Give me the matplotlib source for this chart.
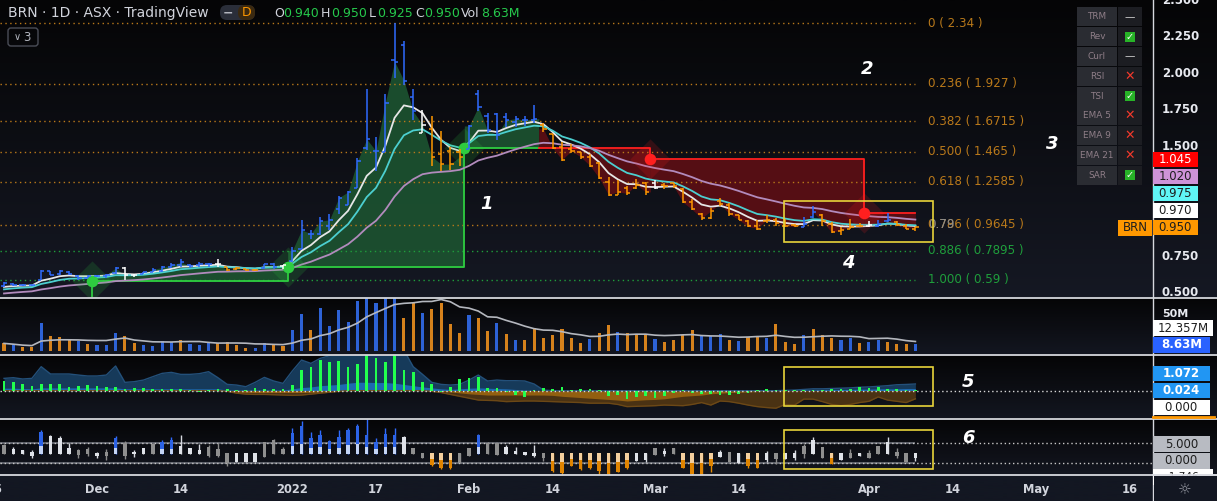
import numpy as np
import pandas as pd
import matplotlib
matplotlib.use("Agg")
import matplotlib.pyplot as plt
from matplotlib.colors import LinearSegmentedColormap
from matplotlib.patches import Rectangle, FancyBboxPatch

plt.rcParams["font.family"] = ["DejaVu Sans"]

W, H = 1217, 501

# ---------------- data: BRN (ASX) daily bars, 17 Nov 2021 - 8 Apr 2022 ----------------
first_bar = "2021-11-17"
holidays = ["2021-12-27", "2021-12-28", "2022-01-03", "2022-01-26",
            "2022-04-15", "2022-04-18", "2022-04-25"]

opens = [0.550, 0.560, 0.555, 0.552, 0.590, 0.648, 0.630, 0.645, 0.615, 0.605,
         0.615, 0.615, 0.635, 0.670, 0.620, 0.630, 0.645, 0.650, 0.680, 0.690,
         0.690, 0.690, 0.700, 0.700, 0.675, 0.665, 0.665, 0.660, 0.670, 0.695,
         0.685, 0.720, 0.800, 0.900, 0.900, 0.960, 1.070, 1.100, 1.220, 1.490,
         1.470, 1.460, 2.090, 2.190, 1.840, 1.590, 1.620, 1.450, 1.470, 1.460,
         1.480, 1.860, 1.710, 1.720, 1.700, 1.670, 1.680, 1.680, 1.650, 1.585,
         1.500, 1.480, 1.460, 1.430, 1.390, 1.260, 1.170, 1.220, 1.220, 1.250,
         1.250, 1.240, 1.250, 1.210, 1.120, 1.040, 1.010, 1.130, 1.100, 1.030,
         0.990, 0.960, 0.990, 1.000, 0.960, 0.965, 0.950, 1.020, 1.030, 0.970,
         0.920, 0.940, 0.960, 0.955, 0.960, 0.990, 0.985, 0.960, 0.940]
highs = [0.572, 0.568, 0.562, 0.556, 0.657, 0.652, 0.660, 0.650, 0.620, 0.625,
         0.625, 0.630, 0.680, 0.675, 0.630, 0.645, 0.670, 0.685, 0.705, 0.730,
         0.700, 0.710, 0.705, 0.730, 0.680, 0.675, 0.665, 0.662, 0.700, 0.705,
         0.690, 0.816, 0.998, 0.930, 1.020, 1.037, 1.160, 1.198, 1.420, 1.890,
         1.567, 1.857, 2.340, 2.220, 1.890, 1.750, 1.710, 1.605, 1.500, 1.480,
         1.650, 1.885, 1.726, 1.730, 1.727, 1.710, 1.710, 1.783, 1.658, 1.585,
         1.529, 1.517, 1.465, 1.449, 1.397, 1.294, 1.272, 1.230, 1.276, 1.260,
         1.272, 1.253, 1.253, 1.215, 1.140, 1.044, 1.078, 1.146, 1.112, 1.030,
         0.998, 0.998, 1.030, 1.010, 1.003, 0.970, 1.021, 1.094, 1.039, 0.987,
         0.948, 1.003, 0.976, 0.990, 0.998, 1.044, 0.990, 0.970, 0.950]
lows = [0.543, 0.548, 0.548, 0.546, 0.589, 0.620, 0.620, 0.625, 0.590, 0.600,
        0.608, 0.600, 0.630, 0.590, 0.610, 0.628, 0.640, 0.645, 0.670, 0.680,
        0.670, 0.680, 0.680, 0.680, 0.650, 0.660, 0.650, 0.652, 0.665, 0.665,
        0.665, 0.714, 0.798, 0.870, 0.895, 0.930, 1.040, 1.100, 1.220, 1.476,
        1.335, 1.460, 1.970, 1.920, 1.680, 1.590, 1.370, 1.330, 1.340, 1.370,
        1.480, 1.745, 1.590, 1.544, 1.636, 1.636, 1.640, 1.658, 1.600, 1.480,
        1.403, 1.453, 1.413, 1.358, 1.276, 1.162, 1.170, 1.170, 1.208, 1.170,
        1.208, 1.212, 1.220, 1.112, 1.067, 0.999, 1.003, 1.094, 1.026, 0.998,
        0.948, 0.930, 0.976, 0.957, 0.948, 0.948, 0.948, 1.010, 0.957, 0.907,
        0.896, 0.935, 0.948, 0.948, 0.948, 0.987, 0.957, 0.934, 0.925]
closes = [0.565, 0.558, 0.556, 0.553, 0.650, 0.625, 0.648, 0.630, 0.605, 0.615,
          0.618, 0.625, 0.670, 0.620, 0.620, 0.640, 0.660, 0.675, 0.690, 0.710,
          0.685, 0.695, 0.695, 0.700, 0.655, 0.668, 0.655, 0.658, 0.695, 0.680,
          0.690, 0.790, 0.930, 0.905, 0.990, 1.000, 1.150, 1.190, 1.400, 1.550,
          1.470, 1.800, 2.080, 1.950, 1.740, 1.650, 1.430, 1.380, 1.380, 1.430,
          1.640, 1.770, 1.610, 1.580, 1.680, 1.690, 1.680, 1.690, 1.620, 1.490,
          1.410, 1.470, 1.430, 1.370, 1.285, 1.170, 1.190, 1.180, 1.240, 1.190,
          1.220, 1.230, 1.230, 1.120, 1.070, 1.010, 1.060, 1.110, 1.040, 1.000,
          0.955, 0.940, 1.000, 0.980, 0.955, 0.955, 0.970, 1.050, 0.990, 0.915,
          0.930, 0.950, 0.955, 0.965, 0.970, 1.000, 0.965, 0.940, 0.950]
# bar colouring of the custom study: b = blue, o = orange, w = white
bar_kind = ("b" * 13 + "ww" + "b" * 8 + "w" + "oooo" + "bb" + "w" + "b" * 14 + "w"
            + "oooo" + "b" * 8 + "o" * 12 + "w" + "o" * 15 + "bb" + "o" * 5 + "w" + "bb" + "ooo")

# volume in millions and its direction
volume = [9.5, 7.4, 4.8, 4.8, 36, 19, 17.8, 13.9, 12.6, 8.7,
          7.4, 7.4, 23, 19, 10, 7.4, 6, 12.6, 11.3, 13.9,
          8.7, 7.4, 11.3, 10, 11.3, 7.4, 3.5, 3.5, 10, 8.7,
          6, 27, 48, 27, 55, 32, 53, 37, 64.5, 90,
          62, 80, 100, 42, 62, 49, 54, 62, 35, 23,
          46, 42, 25.5, 36, 21.6, 13.9, 13.9, 29.4, 16.5, 20.4,
          28, 16.5, 10, 15.2, 23, 33, 24, 23, 21.6, 20.4,
          15.2, 11.3, 13.9, 20.4, 26.8, 20.4, 19, 21.6, 13.9, 12.6,
          17.8, 17.8, 16.5, 34.6, 11.3, 8.7, 20.4, 28, 20.4, 16.5,
          13.9, 16.5, 10, 11.3, 13.9, 11.3, 8.7, 8.7, 8.63]
vol_dir = ("o b o o b o o o b o  b b b o o b b b b o  b b b o o o o b b o  "
           "o b b o b b b b b b  b b b o o b o o o o  b o o b o b o o o o  "
           "o o o b o o b o o o  b o o o o b b b o b  o o b o o o b o o o  "
           "b b o b b o o o b").split()

# momentum oscillator pane
osc_hist = [1.55, 1.33, 1.07, 0.75, 1.07, 1.07, 1.07, 0.59, 0.75, 0.91,
            0.75, 0.59, 0.59, 0.27, 0.43, 0.43, 0.27, 0.27, 0.27, 0.27,
            0.1, -0.2, 0.1, 0.27, 0.27, 0.1, 0.1, 0.43, 0.27, 0.27,
            0.27, 0.91, 3.3, 3.8, 4.9, 4.6, 4.75, 3.8, 4.3, 5.7,
            5.2, 4.6, 5.7, 3.3, 3.0, 1.39, 1.07, -0.16, 0.59, 1.87,
            2.03, 2.24, 0.43, 0.43, -0.21, -0.7, -0.96, 0.05, 0.43, 0.32,
            0.59, 0.05, 0.32, 0.32, 0.05, -0.8, -0.64, -1.28, -0.96, -0.8,
            -1.12, -0.8, -0.32, 0.05, -0.32, -0.48, -0.48, -0.64, -0.64, -0.48,
            -0.32, 0.05, 0.32, 0.05, 0.05, 0.16, 0.16, 0.16, 0.16, 0.32,
            0.32, 0.32, 0.53, 0.48, 0.59, 0.32, 0.32, 0.05, 0.1]
osc_up = [1.97, 2.08, 1.87, 1.97, 3.84, 2.67, 2.67, 2.67, 2.5, 2.35,
          2.35, 2.5, 3.95, 1.33, 1.44, 1.7, 2.24, 2.77, 2.93, 2.61,
          2.61, 2.72, 3.04, 2.08, 1.01, 0.9, 0.64, 1.33, 2.13, 1.55,
          1.17, 3.15, 4.9, 4.37, 5.17, 5.6, 6.5, 7, 7, 7,
          7, 7, 7, 6.5, 3.84, 2.61, 1.33, 1.01, 0.9, 1.01,
          1.7, 2.5, 1.55, 1.7, 1.6, 1.6, 1.55, 1.07, 0.1, 0,
          0, 0, 0, 0, 0, 0, 0, 0, 0, 0,
          0, 0, 0, 0, 0, 0, 0, 0, 0, 0,
          0, 0, 0, 0, 0.05, 0.1, 0.2, 0.3, 0.3, 0.35,
          0.4, 0.45, 0.55, 0.6, 0.7, 0.8, 0.95, 1.0, 1.072]
osc_up_in = [0.4, 0.4, 0.35, 0.3, 0.45, 0.45, 0.45, 0.45, 0.45, 0.45,
             0.45, 0.45, 0.45, 0.3, 0.3, 0.3, 0.3, 0.3, 0.3, 0.3,
             0.3, 0.3, 0.3, 0.3, 0.1, 0.1, 0.1, 0.1, 0.1, 0.1,
             0.1, 0.3, 0.5, 0.6, 0.8, 0.9, 1.0, 1.2, 1.35, 1.35,
             1.3, 1.3, 1.2, 1.0, 0.8, 0.6, 0.45, 0.3, 0.2, 0.3,
             0.4, 0.45, 0.4, 0.35, 0.3, 0.2, 0.1, 0.05, 0, 0,
             0, 0, 0, 0, 0, 0, 0, 0, 0, 0,
             0, 0, 0, 0, 0, 0, 0, 0, 0, 0,
             0, 0, 0, 0, 0, 0.05, 0.1, 0.1, 0.15, 0.15,
             0.2, 0.2, 0.25, 0.25, 0.3, 0.3, 0.3, 0.35, 0.35]
osc_dn = [0, 0, 0, 0, 0, 0, 0, 0, 0, 0,
          0, 0, 0, 0, 0, 0, 0, 0, 0, 0,
          0, 0, 0, 0, -0.1, -0.4, -0.55, -0.6, -0.6, -0.65,
          -0.7, -0.75, -0.7, -0.55, -0.4, -0.25, -0.1, 0, 0, 0,
          0, 0, 0, 0, 0, 0, -0.1, -0.3, -0.6, -0.9,
          -1.2, -1.5, -1.55, -1.6, -1.75, -1.7, -1.65, -1.65, -1.7, -1.75,
          -1.8, -1.85, -1.9, -2.0, -2.0, -2.0, -2.2, -2.55, -2.5, -2.45,
          -2.4, -2.3, -2.35, -2.4, -2.2, -1.9, -2.3, -1.65, -1.75, -2.0,
          -2.3, -2.55, -2.7, -2.8, -2.2, -2.3, -1.35, -1.35, -1.75, -2.2,
          -2.4, -2.2, -1.9, -1.7, -1.0, -1.5, -1.7, -1.9, -1.3]
osc_dn_in = [0, 0, 0, 0, 0, 0, 0, 0, 0, 0,
             0, 0, 0, 0, 0, 0, 0, 0, 0, 0,
             0, 0, 0, 0, -0.05, -0.2, -0.25, -0.3, -0.3, -0.3,
             -0.3, -0.3, -0.3, -0.25, -0.2, -0.1, -0.05, 0, 0, 0,
             0, 0, 0, 0, 0, 0, 0, -0.1, -0.2, -0.35,
             -0.5, -0.6, -0.7, -0.7, -0.7, -0.7, -0.7, -0.7, -0.7, -0.75,
             -0.9, -1.0, -1.1, -1.2, -1.3, -1.4, -1.5, -1.65, -1.55, -1.45,
             -1.4, -1.3, -1.1, -0.9, -0.8, -0.7, -0.5, -0.4, -0.3, -0.25,
             -0.2, -0.15, -0.1, -0.05, -0.05, -0.05, -0.05, -0.05, -0.05, -0.05,
             -0.05, -0.05, -0.05, -0.05, -0.05, -0.05, -0.05, -0.05, -0.05]

# candle oscillator pane (body top/bottom, wick top/bottom, kind)
c_hi = [4.4, 3.4, 3.2, 2.75, 7.75, 6.75, 6.25, 3.75, 3.2, 3.4,
        2.3, 2.6, 6.25, 5.0, 2.75, 3.6, 4.6, 5.25, 5.7, 4.25,
        3.6, 3.2, 4.0, 3.4, 2.3, 2.3, 2.3, 2.3, 5.1, 5.6,
        3.4, 7.5, 9.2, 6.25, 6.9, 5.4, 6.5, 8.2, 9.2, 6.9,
        5.25, 7.1, 6.9, 6.4, 3.6, 2.3, 2.3, 2.3, 2.3, 2.3,
        3.6, 6.9, 5.0, 4.8, 3.9, 2.9, 2.6, 2.3, 2.3, 2.3,
        2.3, 2.3, 2.3, 2.3, 2.3, 2.3, 2.3, 2.3, 2.3, 2.3,
        3.6, 2.9, 3.6, 2.3, 2.3, 2.3, 2.3, 2.6, 2.6, 2.3,
        2.3, 2.3, 2.3, 2.5, 2.3, 2.3, 4.2, 5.7, 4.0, 2.3,
        2.3, 2.3, 2.3, 2.5, 4.2, 5.25, 2.75, 2.3, 2.3]
c_lo = [2.25, 2.25, 2.25, 1.75, 2.25, 2.25, 2.25, 2.25, 1.9, 2.1,
        1.75, 1.7, 2.25, 1.75, 2.1, 2.25, 2.25, 2.25, 2.25, 2.25,
        2.25, 2.25, 1.75, 1.75, -0.15, 0.25, 0.25, 0.25, 1.5, 2.25,
        2.25, 2.25, 2.25, 2.25, 2.25, 2.25, 2.25, 2.25, 2.25, 2.25,
        2.25, 2.25, 2.25, 2.25, 2.25, 1.1, -0.6, -1.4, -1.25, -0.15,
        1.75, 2.25, 2.25, 1.9, 2.25, 2.25, 1.9, 1.75, 1.1, -2.1,
        -2.7, -0.75, -1.6, -1.4, -2.1, -2.9, -2.25, -1.4, 0.4, 0.7,
        1.9, 2.1, 2.1, -1.25, -2.9, -3.0, -0.75, 1.4, 0.25, -0.2,
        -0.75, -1.4, 0.7, 0.9, 0.9, 1.25, 2.1, 2.25, 1.25, -0.4,
        0.6, 1.1, 1.75, 1.25, 2.25, 2.25, 1.6, 0.25, 1.1]
w_hi = [4.6, 4.0, 3.2, 3.2, 8.2, 6.9, 6.6, 4.8, 3.4, 3.8,
        2.75, 3.4, 6.7, 5.4, 3.2, 3.75, 4.8, 5.6, 6.4, 6.9,
        3.75, 4.6, 4.4, 4.8, 2.3, 2.3, 2.3, 2.3, 5.25, 5.9,
        4.0, 8.6, 10.4, 7.6, 8.2, 5.6, 8.2, 8.6, 9.6, 10.9,
        6.1, 8.6, 8.6, 6.6, 3.75, 2.5, 2.3, 2.3, 2.3, 2.3,
        3.6, 7.1, 5.25, 4.8, 4.4, 3.9, 2.6, 4.4, 2.3, 2.3,
        2.3, 2.3, 2.3, 2.3, 2.3, 2.3, 2.3, 2.3, 2.3, 2.5,
        3.6, 3.75, 3.6, 2.3, 2.3, 2.3, 2.3, 3.2, 2.6, 2.3,
        2.3, 2.3, 2.9, 2.5, 2.3, 3.2, 4.6, 6.4, 4.0, 2.3,
        2.3, 3.4, 2.3, 3.2, 4.2, 6.4, 3.6, 2.3, 2.3]
w_lo = [2.1, 2.25, 2.25, 1.25, 2.25, 2.25, 2.25, 2.25, 1.25, 1.75,
        1.1, 0.6, 2.25, 0.9, 1.5, 2.25, 2.25, 2.1, 2.25, 2.25,
        2.25, 2.25, 1.4, 1.5, -0.75, 0.25, 0.25, 0.25, 1.5, 2.25,
        2.25, 2.25, 2.25, 2.25, 2.25, 2.25, 2.25, 2.25, 2.25, 2.25,
        2.25, 2.25, 2.25, 2.25, 2.1, 1.1, -0.75, -1.6, -1.6, -0.15,
        1.75, 2.25, 2.25, 1.9, 2.25, 2.25, 1.9, 1.5, 0.4, -2.25,
        -2.9, -0.9, -1.75, -1.6, -2.75, -3.0, -2.4, -1.5, 0.4, 0.25,
        1.9, 1.75, 2.1, -1.25, -3.0, -3.1, -2.25, 1.4, 0.25, -0.2,
        -1.4, -1.4, 0.25, -0.4, 0.9, 0.7, 1.25, 2.25, 1.25, -0.4,
        0.6, 1.1, 1.75, 1.25, 2.25, 2.25, 1.25, 0.25, 0.4]
c_kind = ("g w w w b w w w g g  w g b g w w g b b w  w w g g g w w w g g  "
          "g b b b b b b b b b  b b b w g g o o o g  g b g g w w w w g o  "
          "o o o o o o o o w w  g w g o o o o w g w  o o w g w w g w g o  "
          "w g w g g w g g w").split()

# stop-and-reverse steps (start date of each step, level, side)
sar_from = ["2021-12-01", "2022-01-04", "2022-02-01", "2022-02-11", "2022-03-01", "2022-04-01"]
sar_level = [0.58, 0.676, 1.49, 1.49, 1.413, 1.045]
sar_side = ["long", "long", "long", "short", "short", "short"]

# fibonacci retracement
fib_ratio = ["0", "0.236", "0.382", "0.500", "0.618", "0.786", "0.886", "1.000"]
fib_price = [2.34, 1.927, 1.6715, 1.465, 1.2585, 0.9645, 0.7895, 0.59]

ema_spans = [5, 9, 21]
ema_seed = [0.53, 0.515, 0.49]

# visible price-scale labels (1.250 and 1.000 sit under the value tags)
price_ticks = [2.5, 2.25, 2.0, 1.75, 1.5, 0.75, 0.5]
axis_tags = ["1.045", "1.020", "0.975", "0.970", "0.950"]

tick_labels = ["15", "Dec", "14", "2022", "17", "Feb", "14", "Mar", "14", "Apr", "14", "May", "16"]
tick_dates = ["2021-11-16", "2021-12-01", "2021-12-14", "2022-01-04", "2022-01-17", "2022-02-01",
              "2022-02-14", "2022-03-01", "2022-03-14", "2022-04-01", "2022-04-14", "2022-05-02",
              "2022-05-16"]

table_rows = ["TRM", "Rev", "Curl", "RSI", "TSI", "EMA 5", "EMA 9", "EMA 21", "SAR"]
table_state = ["-", "ok", "-", "x", "ok", "x", "x", "x", "ok"]

# ---------------- positions ----------------
cal = pd.bdate_range("2021-11-16", "2022-05-31")
cal = cal[~cal.isin(pd.to_datetime(holidays))]
pos = {d: i for i, d in enumerate(cal)}
n = len(closes)
xb = pos[pd.Timestamp(first_bar)] + np.arange(n)

BAR_PX = 9.3
dec1 = pos[pd.Timestamp("2021-12-01")]
xl = (dec1 - 97 / BAR_PX, dec1 + (1152 - 97) / BAR_PX)


def ema(vals, span, seed):
    k = 2 / (span + 1)
    e, out = seed, []
    for v in vals:
        e += k * (v - e)
        out.append(e)
    return np.array(out)


emas = [ema(closes, s, sd) for s, sd in zip(ema_spans, ema_seed)]
vol_ma = pd.Series(volume).rolling(10, min_periods=1).mean()

# ---------------- figure ----------------
fig = plt.figure(figsize=(W / 100, H / 100), dpi=100)
fig.patch.set_facecolor("#0d0f15")


def box(x0, y0, x1, y1):
    return [x0 / W, 1 - y1 / H, (x1 - x0) / W, (y1 - y0) / H]


def backdrop(y0, y1, top, bottom):
    a = fig.add_axes(box(0, y0, W, y1))
    a.imshow(np.linspace(0, 1, 100).reshape(-1, 1), aspect="auto", origin="lower",
             extent=[0, 1, 0, 1], cmap=LinearSegmentedColormap.from_list("bg", [bottom, top]))
    a.axis("off")


def pane(y0, y1):
    a = fig.add_axes(box(0, y0, 1152, y1))
    a.set_xlim(xl)
    a.axis("off")
    return a


backdrop(0, 297, "#050506", "#151823")
backdrop(297, 354, "#050506", "#131620")
backdrop(354, 418, "#050506", "#131620")
backdrop(418, 475, "#050506", "#131620")
backdrop(475, 501, "#131722", "#131722")

# ---- main price pane ----
ax = pane(0, 297)
ax.set_ylim(0.5 - 4 / 146.5, 0.5 + 293 / 146.5)

cl = np.array(closes)
starts = [pos[pd.Timestamp(d)] - xb[0] for d in sar_from]
ends = starts[1:] + [n]
GREEN, RED = "#2ecc40", "#ff1f1f"
for s, e, lv, sd in zip(starts, ends, sar_level, sar_side):
    xs = np.concatenate([[xb[s] - 0.5], xb[s:e], [xb[e - 1] + (0.5 if e < n else 0)]])
    cs = np.concatenate([[cl[s]], cl[s:e], [cl[e - 1]]])
    ax.fill_between(xs, lv, cs, color="#1c5230" if sd == "long" else "#5c0e14",
                    alpha=0.92, lw=0, zorder=1)

for side, col in (("long", GREEN), ("short", RED)):
    px, py = [], []
    for k, (s, e, lv, sd) in enumerate(zip(starts, ends, sar_level, sar_side)):
        if sd != side:
            continue
        xa = xb[s] - 0.5
        xe = xb[e - 1] + (0.5 if e < n else 0)
        if k == 0:
            px.append(xa)
            py.append(ax.get_ylim()[0])
        px += [xa, xe]
        py += [lv, lv]
    ax.plot(px, py, color=col, lw=1.3, zorder=3)

for k, (s, lv, sd) in enumerate(zip(starts, sar_level, sar_side)):
    if k == 0 or sd == sar_side[k - 1]:
        col = GREEN if sd == "long" else RED
        ax.scatter(xb[s] - 0.5, lv, s=420, marker="D", color=col, alpha=0.16, lw=0, zorder=5)
        ax.scatter(xb[s] - 0.5, lv, s=70, color=col, lw=0, zorder=5)

fib_col = ["#b9791a"] * 6 + ["#1f9e3c"] * 2
ax.hlines(fib_price, xl[0], xb[-1], colors=fib_col, lw=1.0, linestyles=(0, (1, 2.5)), zorder=2)
x_lab = xl[0] + 928 / BAR_PX
for r, p, c in zip(fib_ratio, fib_price, fib_col):
    ax.text(x_lab, p, f"{r} ( {p:g} )", color=c, fontsize=8.6, va="center", ha="left",
            clip_on=False, zorder=6)
# the drawing's own short label that sits on top of the 0.786 level text
ax.text(x_lab, fib_price[5], "0.79", color="#8c8c8c", fontsize=8.6, va="center", ha="left",
        clip_on=False, zorder=7)

for e, c in zip(emas, ["#e6e6e6", "#4ccfd0", "#b28bbd"]):
    ax.plot(xb, e, color=c, lw=1.3, zorder=4)

bar_col = {"b": "#2f6bff", "o": "#ff9800", "w": "#ffffff"}
bc = [bar_col[k] for k in bar_kind]
ax.vlines(xb, lows, highs, colors=bc, lw=1.1, zorder=6)
ax.hlines(opens, xb - 0.35, xb, colors=bc, lw=1.1, zorder=6)
ax.hlines(closes, xb, xb + 0.35, colors=bc, lw=1.1, zorder=6)

x_ax = xl[1] + 10 / BAR_PX
for t in price_ticks:
    ax.text(x_ax, t, f"{t:.3f}", color="#e8eaf0", fontsize=8.5, fontweight="bold",
            va="center", ha="left", clip_on=False)

# ---- volume pane ----
axv = pane(298, 354)
axv.set_ylim(-4.3, 68.5)
vcol = {"b": "#2d62d6", "o": "#d6821c"}
axv.bar(xb, volume, width=0.34, color=[vcol[d] for d in vol_dir])
axv.plot(xb, vol_ma, color="#b4b7be", lw=1.2)

# ---- oscillator pane ----
axo = pane(355, 418)
axo.set_ylim(-4.37, 5.71)
axo.fill_between(xb, 0, osc_up, color="#163a5a", lw=0)
axo.plot(xb, osc_up, color="#23507a", lw=1)
axo.fill_between(xb, 0, osc_up_in, color="#1d6ab0", lw=0)
axo.fill_between(xb, 0, osc_dn, color="#4a3213", lw=0)
axo.plot(xb, osc_dn, color="#6c4816", lw=1)
axo.fill_between(xb, 0, osc_dn_in, color="#925f10", lw=0)
axo.bar(xb, osc_hist, width=0.3, color="#22ff4e", zorder=3)
axo.axhline(0, color="#d8d8d8", lw=1, ls=(0, (1, 2)), zorder=4)

# ---- candle pane ----
axc = pane(419, 475)
axc.set_ylim(-3.08, 10.9)
for lv in (5, 0):
    axc.hlines(lv, xl[0], xb[-1], color="#6d707a", lw=1.2)
    axc.axhline(lv, color="#c8c8c8", lw=1, ls=(0, (1, 2)))
wick_col = {"b": "#2f6bff", "o": "#e58a00", "w": "#d6d9e0", "g": "#8a8a8a"}
for i in range(n):
    x, k = xb[i], c_kind[i]
    hi, lo = c_hi[i], c_lo[i]
    axc.vlines(x, w_lo[i], w_hi[i], color=wick_col[k], lw=1.0, zorder=3)
    if k == "b":
        sp = lo + 0.35 * (hi - lo)
        axc.bar(x, sp - lo, bottom=lo, width=0.38, color="#c4d4f4", zorder=4)
        axc.bar(x, hi - sp, bottom=sp, width=0.38, color="#2c63e6", zorder=4)
    elif k == "o":
        sp = hi - 0.45 * (hi - lo)
        axc.bar(x, hi - sp, bottom=sp, width=0.38, color="#f4cf9e", zorder=4)
        axc.bar(x, sp - lo, bottom=lo, width=0.38, color="#e08400", zorder=4)
    else:
        axc.bar(x, max(hi - lo, 0.12), bottom=lo, width=0.38,
                color="#dfe2e8" if k == "w" else "#8f8f8f", zorder=4)

# ---- time axis ----
axt = pane(475, 501)
axt.set_ylim(0, 1)
for lab, d in zip(tick_labels, tick_dates):
    axt.text(pos[pd.Timestamp(d)], 0.45, lab, color="#d1d4dc", fontsize=8.3,
             fontweight="bold", ha="center", va="center", clip_on=True)

# ---------------- overlay (pixel space) ----------------
ov = fig.add_axes([0, 0, 1, 1])
ov.set_xlim(0, W)
ov.set_ylim(H, 0)
ov.axis("off")

for y in (297.5, 354.5, 418.5, 475):
    ov.plot([0, W], [y, y], color="#d6d8de", lw=1.3)
ov.plot([1152.5, 1152.5], [0, H], color="#d6d8de", lw=1.0)

# header
ov.text(8, 12.5, "BRN · 1D · ASX · TradingView", color="#d1d4dc", fontsize=10, va="center")
ov.add_patch(FancyBboxPatch((220, 5), 35, 15, boxstyle="round,pad=0,rounding_size=7",
                            color="#2a2e39", lw=0))
ov.add_patch(FancyBboxPatch((238, 5), 17, 15, boxstyle="round,pad=0,rounding_size=7",
                            color="#3a2910", lw=0))
ov.text(228, 12.5, "−", color="#b2b5be", fontsize=9, ha="center", va="center", fontweight="bold")
ov.text(247, 12.5, "D", color="#ff9800", fontsize=9, ha="center", va="center")
ohlc_parts = [(274, "O", False), (283, "0.940", True), (321, "H", False), (331, "0.950", True),
              (369, "L", False), (377, "0.925", True), (415, "C", False), (424, "0.950", True),
              (461, "Vol", False), (481, "8.63M", True)]
for xp, t, num in ohlc_parts:
    ov.text(xp, 13, t, color="#26c94c" if num else "#d1d4dc", fontsize=9, va="center")
ov.add_patch(FancyBboxPatch((8, 28), 30, 18, boxstyle="round,pad=0,rounding_size=3",
                            fc="none", ec="#4a4d57", lw=1))
ov.text(17, 37, "∨", color="#b2b5be", fontsize=7, ha="center", va="center")
ov.text(27, 37, "3", color="#b2b5be", fontsize=8.5, ha="center", va="center")

# highlighted zones
for y0, y1 in ((201, 242), (367, 406), (430, 469)):
    ov.add_patch(Rectangle((784, y0), 149, y1 - y0, fc="none", ec="#e8d43a", lw=1.2))

# wave numbers
for t, xp, yp in (("1", 486, 204), ("2", 867, 69), ("3", 1052, 144), ("4", 848, 263),
                  ("5", 968, 382), ("6", 968, 438)):
    ov.text(xp, yp, t, color="white", fontsize=13, fontweight="bold", fontstyle="italic",
            ha="center", va="center")

# status table
for r, (name, st) in enumerate(zip(table_rows, table_state)):
    y0 = 7.3 + r * 19.8
    ov.add_patch(Rectangle((1077, y0), 40, 19, color="#2a2c32", lw=0))
    ov.add_patch(Rectangle((1118, y0), 24, 19, color="#1c1d22", lw=0))
    ov.text(1097, y0 + 9.5, name, color="#8f7e88", fontsize=6.4, ha="center", va="center")
    if st == "ok":
        ov.add_patch(Rectangle((1125, y0 + 4.5), 10, 10, color="#27b327", lw=0))
        ov.text(1130, y0 + 9.7, "✓", color="white", fontsize=7, ha="center", va="center")
    elif st == "x":
        ov.text(1130, y0 + 9.5, "✕", color="#f2392c", fontsize=9, ha="center", va="center")
    else:
        ov.text(1130, y0 + 9.5, "—", color="#d0d0d0", fontsize=7.5, ha="center", va="center")


def tag(yc, text, bg, fg, x1=1198, h=15.5, bold=False, size=8.5):
    ov.add_patch(Rectangle((1152.5, yc - h / 2), x1 - 1152.5, h, color=bg, lw=0, zorder=3))
    ov.text((1152.5 + x1) / 2, yc, text, color=fg, fontsize=size, ha="center", va="center",
            fontweight="bold" if bold else "normal", zorder=4)


tag_bg = ["#ff0000", "#ce93d8", "#5ff5f5", "#ffffff", "#ff9800"]
tag_fg = ["white", "#1e1e1e", "#1e1e1e", "#1e1e1e", "#1e1e1e"]
for k, (t, bgc, fgc) in enumerate(zip(axis_tags, tag_bg, tag_fg)):
    tag(159.5 + 17 * k, t, bgc, fgc)
ov.add_patch(Rectangle((1118, 220), 34, 15.5, color="#ff9800", lw=0))
ov.text(1135, 227.8, "BRN", color="#1e1e1e", fontsize=8.5, ha="center", va="center")

ov.text(1162, 314, "50M", color="#e8eaf0", fontsize=8, fontweight="bold", va="center")
tag(328, "12.357M", "#ffffff", "#1e1e1e", x1=1213)
tag(345, "8.63M", "#2962ff", "white", x1=1210, bold=True)
tag(373.5, "1.072", "#2196f3", "white", x1=1210, bold=True)
tag(390.5, "0.024", "#2196f3", "white", x1=1210, bold=True)
tag(407.5, "0.000", "#ffffff", "#1e1e1e", x1=1210)
ov.plot([1152.5, 1214], [416.8, 416.8], color="#ff9800", lw=2)
tag(444, "5.000", "#b8bbc2", "#1e1e1e", x1=1210)
tag(461, "0.000", "#b8bbc2", "#1e1e1e", x1=1210)
tag(477, "-1.746", "#ffffff", "#1e1e1e", x1=1213, size=7.5)
ov.add_patch(Rectangle((1153.5, 475.8), 64, 26, color="#131722", lw=0, zorder=5))
ov.plot([1152.5, W], [475, 475], color="#d6d8de", lw=1.3, zorder=6)
ov.text(1185, 490, "☼", color="#9598a1", fontsize=11, ha="center", va="center", zorder=6)

fig.savefig("out.png", dpi=100, facecolor=fig.get_facecolor())
